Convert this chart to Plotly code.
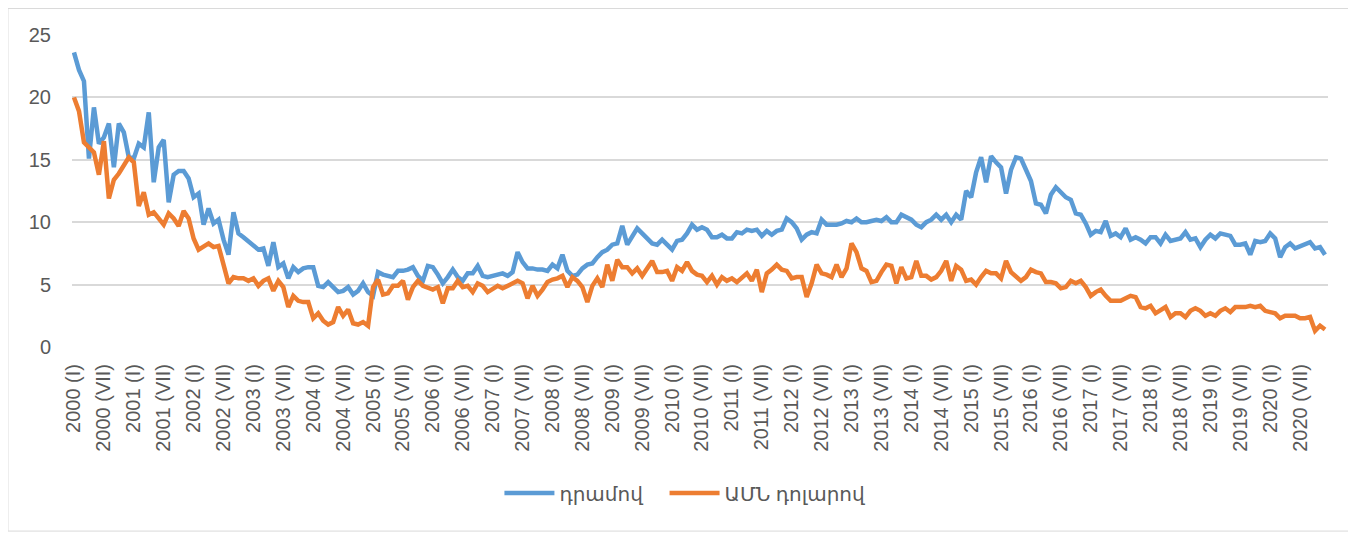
import plotly.graph_objects as go

# ամսական տվյալներ 2000 (I) – 2020 (XII)
YEARS = list(range(2000, 2021))
ROMAN = ['I', 'II', 'III', 'IV', 'V', 'VI', 'VII', 'VIII', 'IX', 'X', 'XI', 'XII']

DRAM = [
    23.6, 22.2, 21.3, 15.1, 19.2, 16.3, 16.8, 17.9, 14.4, 17.9, 17.2, 15.2,   # 2000
    15.1, 16.3, 16.0, 18.8, 13.2, 16.0, 16.6, 11.6, 13.8, 14.1, 14.1, 13.5,   # 2001
    12.0, 12.3, 9.8, 11.1, 9.9, 10.2, 8.6, 7.4, 10.8, 9.1, 8.8, 8.5,          # 2002
    8.2, 7.8, 7.9, 6.5, 8.4, 6.4, 6.7, 5.5, 6.4, 6.0, 6.3, 6.4,               # 2003
    6.4, 4.9, 4.8, 5.2, 4.8, 4.4, 4.5, 4.8, 4.2, 4.5, 5.1, 4.4,               # 2004
    4.1, 6.0, 5.8, 5.7, 5.6, 6.1, 6.1, 6.2, 6.4, 5.7, 5.3, 6.5,               # 2005
    6.4, 5.8, 5.1, 5.6, 6.2, 5.6, 5.3, 5.9, 5.9, 6.5, 5.7, 5.6,               # 2006
    5.7, 5.8, 5.9, 5.7, 6.0, 7.6, 6.8, 6.3, 6.3, 6.2, 6.2, 6.1,               # 2007
    6.6, 6.3, 7.4, 6.1, 5.7, 5.8, 6.3, 6.6, 6.7, 7.2, 7.6, 7.8,               # 2008
    8.2, 8.3, 9.7, 8.2, 8.8, 9.5, 9.1, 8.7, 8.3, 8.2, 8.6, 8.2,               # 2009
    7.8, 8.5, 8.6, 9.1, 9.8, 9.4, 9.6, 9.4, 8.8, 8.8, 9.0, 8.7,               # 2010
    8.7, 9.2, 9.1, 9.4, 9.3, 9.4, 8.9, 9.3, 9.0, 9.3, 9.4, 10.3,              # 2011
    10.0, 9.5, 8.6, 9.0, 9.2, 9.1, 10.2, 9.8, 9.8, 9.8, 9.9, 10.1,            # 2012
    10.0, 10.3, 10.0, 10.0, 10.1, 10.2, 10.1, 10.4, 10.0, 10.0, 10.6, 10.4,   # 2013
    10.2, 9.8, 9.6, 10.0, 10.2, 10.6, 10.2, 10.6, 10.0, 10.6, 10.2, 12.5,     # 2014
    12.0, 14.0, 15.2, 13.2, 15.3, 14.8, 14.4, 12.3, 14.2, 15.2, 15.1, 14.2,   # 2015
    13.3, 11.5, 11.4, 10.7, 12.2, 12.8, 12.4, 12.0, 11.8, 10.7, 10.6, 9.9,    # 2016
    9.0, 9.3, 9.2, 10.1, 8.9, 9.1, 8.8, 9.5, 8.6, 8.8, 8.6, 8.3,              # 2017
    8.8, 8.8, 8.3, 9.0, 8.5, 8.6, 8.7, 9.2, 8.6, 8.7, 8.0, 8.6,               # 2018
    9.0, 8.7, 9.1, 9.0, 8.9, 8.2, 8.2, 8.3, 7.4, 8.5, 8.4, 8.5,               # 2019
    9.1, 8.7, 7.2, 8.0, 8.3, 7.9, 8.1, 8.2, 8.4, 7.9, 8.0, 7.4,               # 2020
]

USD = [
    20.0, 18.9, 16.4, 16.0, 15.6, 13.8, 16.5, 11.9, 13.4, 13.9, 14.6, 15.2,   # 2000
    14.8, 11.3, 12.4, 10.6, 10.8, 10.3, 9.8, 10.7, 10.3, 9.7, 10.9, 10.3,     # 2001
    8.7, 7.8, 8.0, 8.3, 8.0, 8.1, 6.6, 5.1, 5.6, 5.5, 5.5, 5.3,               # 2002
    5.5, 4.9, 5.3, 5.5, 4.5, 5.3, 4.8, 3.2, 4.1, 3.7, 3.6, 3.6,               # 2003
    2.3, 2.7, 2.1, 1.8, 2.0, 3.2, 2.5, 3.0, 1.9, 1.8, 2.0, 1.7,               # 2004
    4.8, 5.4, 4.2, 4.3, 4.9, 4.9, 5.3, 3.8, 4.8, 5.3, 4.9, 4.7,               # 2005
    4.6, 4.8, 3.5, 4.7, 4.7, 5.3, 4.8, 4.9, 4.4, 5.1, 4.9, 4.4,               # 2006
    4.7, 4.9, 4.7, 4.9, 5.1, 5.3, 5.1, 3.9, 4.9, 4.1, 4.6, 5.2,               # 2007
    5.4, 5.5, 5.7, 4.8, 5.6, 5.3, 4.8, 3.6, 4.9, 5.5, 4.8, 6.6,               # 2008
    5.3, 7.0, 6.4, 6.4, 5.9, 6.3, 5.7, 6.3, 6.9, 6.0, 6.0, 6.1,               # 2009
    5.3, 6.4, 6.1, 6.8, 6.1, 5.8, 5.7, 5.2, 5.7, 5.0, 5.6, 5.3,               # 2010
    5.5, 5.2, 5.6, 5.9, 5.3, 6.2, 4.4, 5.9, 6.2, 6.6, 6.2, 6.1,               # 2011
    5.5, 5.6, 5.6, 4.0, 5.1, 6.6, 5.9, 5.8, 5.6, 6.6, 5.6, 6.3,               # 2012
    8.3, 7.6, 6.3, 6.1, 5.2, 5.3, 6.0, 6.6, 6.5, 5.1, 6.4, 5.5,               # 2013
    5.6, 6.9, 5.7, 5.7, 5.4, 5.6, 6.1, 6.9, 5.3, 6.5, 6.2, 5.3,               # 2014
    5.4, 5.0, 5.6, 6.1, 5.9, 5.9, 5.5, 6.9, 6.0, 5.7, 5.3, 5.6,               # 2015
    6.2, 6.0, 5.9, 5.2, 5.2, 5.1, 4.7, 4.8, 5.3, 5.1, 5.3, 4.8,               # 2016
    4.1, 4.4, 4.6, 4.1, 3.7, 3.7, 3.7, 3.9, 4.1, 4.0, 3.2, 3.1,               # 2017
    3.3, 2.7, 2.9, 3.2, 2.4, 2.7, 2.7, 2.4, 2.9, 3.1, 2.9, 2.5,               # 2018
    2.7, 2.5, 2.9, 3.1, 2.8, 3.2, 3.2, 3.2, 3.3, 3.2, 3.3, 2.9,               # 2019
    2.8, 2.7, 2.3, 2.5, 2.5, 2.5, 2.3, 2.3, 2.4, 1.3, 1.7, 1.4,               # 2020
]

MONTHS = [f'{y} ({r})' for y in YEARS for r in ROMAN]
TICK_LABELS = MONTHS[::6]   # I և VII ամիսներ

BLUE = '#5B9BD5'
ORANGE = '#ED7D31'
FONT = 'Liberation Sans, DejaVu Sans, Arial, sans-serif'
PAD = '\u00a0' * 3   # լեգենդի տարրերի միջև հեռավորություն

fig = go.Figure()
fig.add_trace(go.Scatter(x=MONTHS, y=DRAM, mode='lines', name='դրամով' + PAD,
                         line=dict(color=BLUE, width=4.5)))
fig.add_trace(go.Scatter(x=MONTHS, y=USD, mode='lines', name='ԱՄՆ դոլարով',
                         line=dict(color=ORANGE, width=4.5)))

fig.update_xaxes(type='category', categoryorder='array', categoryarray=MONTHS,
                 range=[-0.4, 251.6],
                 tickmode='array', tickvals=TICK_LABELS, ticktext=TICK_LABELS,
                 tickangle=-90, showgrid=False, showline=False, ticks='',
                 ticklabelstandoff=12,
                 tickfont=dict(size=20, color='#595959', family=FONT))
fig.update_yaxes(range=[0, 25], dtick=5, showgrid=True, gridcolor='#d9d9d9',
                 gridwidth=1.5, zeroline=False, showline=False, ticks='',
                 ticklabelstandoff=20,
                 tickfont=dict(size=20, color='#595959', family=FONT))

# рамка диаграммы
fig.add_shape(type='rect', xref='paper', yref='paper',
              x0=-0.051, x1=1.0215, y0=-0.59, y1=1.085,
              line=dict(color='#d9d9d9', width=1), layer='below')

# страница html добавляет отступ 8px, поэтому поля сдвинуты
fig.update_layout(
    width=1356, height=533,
    margin=dict(l=64, r=36, t=27, b=194),
    plot_bgcolor='white', paper_bgcolor='white',
    showlegend=True,
    legend=dict(orientation='h', x=0.488, xanchor='center', y=-0.468, yanchor='middle',
                font=dict(size=20, color='#595959', family=FONT),
                itemwidth=50),
)

fig.write_html('out.html')
